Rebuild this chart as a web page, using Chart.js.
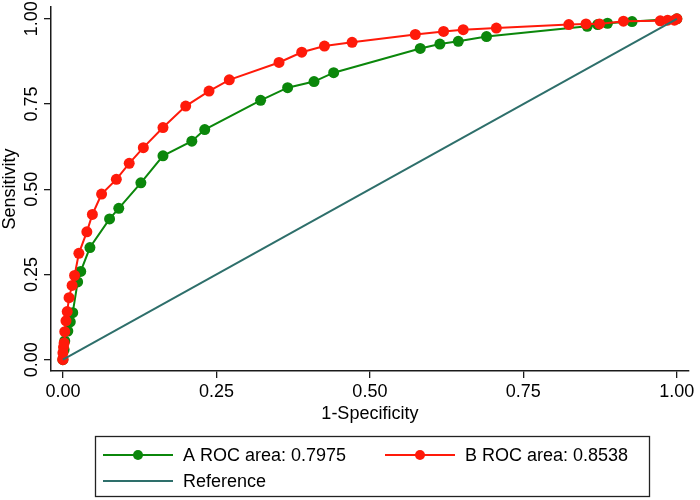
<!DOCTYPE html>
<html>
<head>
<meta charset="utf-8">
<script src="https://cdn.jsdelivr.net/npm/chart.js@4/dist/chart.umd.min.js"></script>
<style>
  html, body { margin: 0; padding: 0; background: #ffffff; }
  #wrap { width: 700px; height: 500px; position: relative; }
</style>
</head>
<body>
<div id="wrap"><canvas id="c" width="700" height="500"></canvas></div>
<script>
// ---- data ----
const aFpr = [0, 0.002, 0.003, 0.008, 0.012, 0.016, 0.024, 0.029, 0.044, 0.076, 0.091, 0.127, 0.163, 0.210, 0.231, 0.322, 0.366, 0.409, 0.441, 0.582, 0.614, 0.644, 0.690, 0.854, 0.871, 0.887, 0.927, 1];
const aTpr = [0, 0.029, 0.055, 0.084, 0.111, 0.138, 0.228, 0.259, 0.329, 0.413, 0.444, 0.519, 0.598, 0.641, 0.675, 0.761, 0.798, 0.816, 0.842, 0.913, 0.926, 0.934, 0.948, 0.978, 0.983, 0.987, 0.992, 1];
const bFpr = [0, 0, 0, 0.001, 0.002, 0.003, 0.005, 0.007, 0.010, 0.015, 0.019, 0.026, 0.039, 0.048, 0.063, 0.087, 0.108, 0.131, 0.163, 0.200, 0.238, 0.271, 0.352, 0.389, 0.426, 0.471, 0.574, 0.620, 0.652, 0.706, 0.824, 0.852, 0.874, 0.913, 0.973, 0.985, 0.996, 1];
const bTpr = [0, 0.003, 0.020, 0.037, 0.049, 0.082, 0.114, 0.141, 0.182, 0.218, 0.247, 0.312, 0.375, 0.426, 0.486, 0.529, 0.576, 0.622, 0.681, 0.744, 0.788, 0.821, 0.872, 0.902, 0.920, 0.931, 0.954, 0.963, 0.968, 0.973, 0.983, 0.985, 0.985, 0.993, 0.994, 0.996, 0.996, 1];
const refX = [0, 1];
const refY = [0, 1];
const seriesLabels = ["A ROC area: 0.7975", "B ROC area: 0.8538", "Reference"];
const xTickValues = [0, 0.25, 0.5, 0.75, 1];
const yTickValues = [0, 0.25, 0.5, 0.75, 1];
const xTickLabels = ["0.00", "0.25", "0.50", "0.75", "1.00"];
const yTickLabels = ["0.00", "0.25", "0.50", "0.75", "1.00"];
const xTitle = "1-Specificity";
const yTitle = "Sensitivity";

// ---- styles ----
const FONT = "'Liberation Sans', Arial, sans-serif";
const FS = 18;
const GREEN = "#0b870b";
const RED = "#ff1a0a";
const TEAL = "#2e6f6b";
const AXIS = "#1a1a1a";

const toPts = (xs, ys) => xs.map((x, i) => ({ x: x, y: ys[i] }));

// Y tick labels drawn rotated (reading upward) from the y scale's own ticks
const yTickLabelPlugin = {
  id: 'yTickLabels',
  afterDraw(chart) {
    const ctx = chart.ctx;
    const ys = chart.scales.y;
    ctx.save();
    ctx.font = FS + "px " + FONT;
    ctx.fillStyle = "#000";
    ctx.textAlign = "center";
    ctx.textBaseline = "middle";
    ys.ticks.forEach((t, i) => {
      const py = ys.getPixelForValue(t.value);
      ctx.save();
      ctx.translate(31, py);
      ctx.rotate(-Math.PI / 2);
      ctx.fillText(yTickLabels[i], 0, 1);
      ctx.restore();
    });
    ctx.restore();
  }
};

// Boxed legend below the plot, built from the datasets
const boxLegendPlugin = {
  id: 'boxLegend',
  afterDraw(chart) {
    const ctx = chart.ctx;
    const ds = chart.data.datasets;
    const box = { x: 95.5, y: 436.5, w: 554, h: 60 };
    ctx.save();
    ctx.strokeStyle = "#222";
    ctx.lineWidth = 1.3;
    ctx.strokeRect(box.x, box.y, box.w, box.h);
    const slots = [
      { lx: 103, ly: 455, idx: 0 },
      { lx: 385, ly: 455, idx: 1 },
      { lx: 103, ly: 481, idx: 2 }
    ];
    ctx.font = FS + "px " + FONT;
    ctx.textBaseline = "middle";
    ctx.textAlign = "left";
    slots.forEach(s => {
      const d = ds[s.idx];
      ctx.strokeStyle = d.borderColor;
      ctx.lineWidth = d.borderWidth;
      ctx.beginPath();
      ctx.moveTo(s.lx, s.ly);
      ctx.lineTo(s.lx + 70, s.ly);
      ctx.stroke();
      if (d.pointRadius > 0) {
        ctx.fillStyle = d.pointBackgroundColor;
        ctx.beginPath();
        ctx.arc(s.lx + 35, s.ly, 5, 0, Math.PI * 2);
        ctx.fill();
      }
      ctx.fillStyle = "#000";
      ctx.fillText(d.label, s.lx + 80, s.ly + 1);
    });
    ctx.restore();
  }
};

const ctx = document.getElementById('c').getContext('2d');
new Chart(ctx, {
  type: 'line',
  data: {
    datasets: [
      {
        label: seriesLabels[0],
        data: toPts(aFpr, aTpr),
        borderColor: GREEN,
        backgroundColor: GREEN,
        pointBackgroundColor: GREEN,
        pointBorderColor: GREEN,
        borderWidth: 2,
        pointRadius: 5.5,
        pointBorderWidth: 0,
        pointHoverRadius: 5.5,
        tension: 0,
        clip: false,
        order: 3
      },
      {
        label: seriesLabels[1],
        data: toPts(bFpr, bTpr),
        borderColor: RED,
        backgroundColor: RED,
        pointBackgroundColor: RED,
        pointBorderColor: RED,
        borderWidth: 2,
        pointRadius: 5.5,
        pointBorderWidth: 0,
        pointHoverRadius: 5.5,
        tension: 0,
        clip: false,
        order: 2
      },
      {
        label: seriesLabels[2],
        data: toPts(refX, refY),
        borderColor: TEAL,
        backgroundColor: TEAL,
        borderWidth: 2,
        pointRadius: 0,
        tension: 0,
        clip: false,
        order: 1
      }
    ]
  },
  options: {
    responsive: false,
    animation: false,
    layout: { padding: { top: 7, right: 7, bottom: 78.6, left: 0 } },
    plugins: {
      legend: { display: false },
      tooltip: { enabled: false },
      title: { display: false }
    },
    scales: {
      x: {
        type: 'linear',
        min: -0.0194,
        max: 1.0194,
        afterBuildTicks: (s) => { s.ticks = xTickValues.map(v => ({ value: v })); },
        ticks: {
          autoSkip: false,
          maxRotation: 0,
          padding: 5.5,
          color: "#000",
          font: { family: FONT, size: FS, lineHeight: 1 },
          callback: (v, i) => xTickLabels[i]
        },
        grid: { display: true, drawOnChartArea: false, drawTicks: true, tickLength: 7, color: AXIS, lineWidth: 1.3 },
        border: { display: true, color: AXIS, width: 1.5 },
        title: {
          display: true,
          text: xTitle,
          color: "#000",
          font: { family: FONT, size: FS, lineHeight: 0.8 },
          padding: { top: 0, bottom: 0 }
        }
      },
      y: {
        type: 'linear',
        min: -0.0332,
        max: 1.0347,
        afterBuildTicks: (s) => { s.ticks = yTickValues.map(v => ({ value: v })); },
        ticks: { display: false },
        grid: { display: true, drawOnChartArea: false, drawTicks: true, tickLength: 7, color: AXIS, lineWidth: 1.3 },
        border: { display: true, color: AXIS, width: 1.5 },
        title: {
          display: true,
          text: yTitle,
          color: "#000",
          font: { family: FONT, size: FS, lineHeight: 1 },
          padding: { top: 1, bottom: 25 }
        }
      }
    }
  },
  plugins: [yTickLabelPlugin, boxLegendPlugin]
});
</script>
</body>
</html>
